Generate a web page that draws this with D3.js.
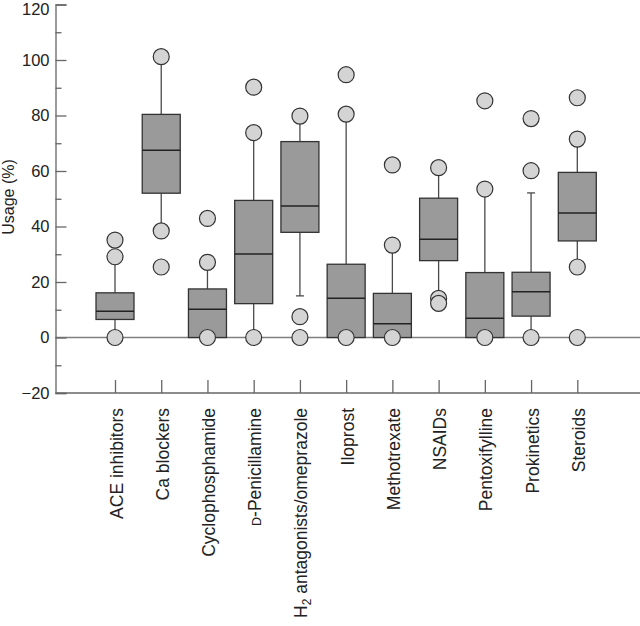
<!DOCTYPE html>
<html>
<head>
<meta charset="utf-8">
<script src="https://cdn.jsdelivr.net/npm/d3@7/dist/d3.min.js"></script>
<style>
html,body{margin:0;padding:0;background:#fff;}
svg{display:block;font-family:"Liberation Sans",Arial,sans-serif;}
</style>
</head>
<body>
<svg id="chart" width="640" height="626"></svg>
<script>
const categories = ["ACE inhibitors","Ca blockers","Cyclophosphamide","D-Penicillamine","H2 antagonists/omeprazole","Iloprost","Methotrexate","NSAIDs","Pentoxifylline","Prokinetics","Steroids"];
const q1       = [6.5, 52.0, 0,    12.2, 37.9, 0,    0,    27.7, 0,    7.7,  34.8];
const medians  = [9.5, 67.5, 10.2, 30.1, 47.4, 14.1, 5.0,  35.4, 6.9,  16.5, 44.9];
const q3       = [16.1, 80.4, 17.5, 49.4, 70.6, 26.4, 15.9, 50.2, 23.4, 23.5, 59.5];
const whiskLo  = [0,   38.4, 0,    2.0,  15.0, 0,    0,    14.1, 0,    0,    25.4];
const whiskHi  = [27,  101,  27.1, 73.8, 78.0, 80.5, 33.3, 61.2, 53.5, 52.1, 71.5];
const outliers = [
  [35.1, 29.1, 0],
  [101.2, 38.4, 25.4],
  [42.9, 27.1, 0],
  [90.2, 73.8, 0],
  [79.8, 7.5, 0],
  [94.7, 80.5, 0],
  [62.2, 33.3, 0],
  [61.2, 14.1, 12.3],
  [85.3, 53.5, 0],
  [78.9, 60.1, 0],
  [86.4, 71.5, 25.4, 0]
];
const yTicks = [-20, 0, 20, 40, 60, 80, 100, 120];
const yMinorTicks = [-10, 10, 30, 50, 70, 90, 110];
const yTitle = "Usage (%)";

const svg = d3.select("#chart");
const axisX0 = 55.5, rightEdge = 640;
const y = d3.scaleLinear().domain([-20, 120]).range([393, 4.5]);
const x = d3.scalePoint().domain(categories).range([115, 577.3]);
const boxW = 38, capW = 8, r = 8;
const tickFont = 16.5, catFont = 17.5, titleFont = 16;

// zero line
svg.append("line")
  .attr("x1", axisX0).attr("x2", rightEdge)
  .attr("y1", y(0)).attr("y2", y(0))
  .attr("stroke", "#808080").attr("stroke-width", 1.3);

// Y axis
const yAxis = svg.append("g").attr("transform", `translate(${axisX0},0)`)
  .call(d3.axisLeft(y).tickValues(yTicks).tickSize(-11).tickPadding(6));
yAxis.select(".domain").attr("stroke", "#666").attr("stroke-width", 1.3);
yAxis.selectAll(".tick line").attr("stroke", "#666").attr("stroke-width", 1.3);
yAxis.selectAll(".tick text").attr("font-size", tickFont).attr("fill", "#222")
  .attr("font-family", "Liberation Sans, Arial, sans-serif")
  .attr("y", d => d === 120 ? 5 : 0);

const yMinor = svg.append("g").attr("transform", `translate(${axisX0},0)`)
  .call(d3.axisLeft(y).tickValues(yMinorTicks).tickSize(-6).tickFormat(""));
yMinor.select(".domain").remove();
yMinor.selectAll(".tick line").attr("stroke", "#666").attr("stroke-width", 1.3);

// X axis
const xAxis = svg.append("g").attr("transform", `translate(0,${y(-20)})`)
  .call(d3.axisBottom(x).tickSize(-13).tickFormat(""));
xAxis.select(".domain").attr("d", `M${axisX0},0H${rightEdge}`).attr("stroke", "#666").attr("stroke-width", 1.3);
xAxis.selectAll(".tick line").attr("stroke", "#666").attr("stroke-width", 1.3);

// Y title
svg.append("text")
  .attr("transform", `translate(14,${197}) rotate(-90)`)
  .attr("text-anchor", "middle")
  .attr("font-size", titleFont)
  .attr("fill", "#222")
  .text(yTitle);

// Category labels
categories.forEach((c) => {
  const t = svg.append("text")
    .attr("transform", `translate(${x(c) + 7.5},408) rotate(-90)`)
    .attr("text-anchor", "end")
    .attr("font-size", catFont)
    .attr("fill", "#222");
  if (c.startsWith("H2")) {
    t.append("tspan").text("H");
    t.append("tspan").attr("font-size", 12).attr("dy", 4).text("2");
    t.append("tspan").attr("dy", -4).text(c.slice(2));
  } else if (c.startsWith("D-")) {
    t.append("tspan").attr("font-size", 12.5).text("D");
    t.append("tspan").text(c.slice(1));
  } else {
    t.text(c);
  }
});

const g = svg.append("g");
const lineColor = "#4a4a4a";
categories.forEach((c, i) => {
  const cx = x(c);
  // whiskers
  g.append("line").attr("x1", cx).attr("x2", cx).attr("y1", y(q3[i])).attr("y2", y(whiskHi[i]))
    .attr("stroke", lineColor).attr("stroke-width", 1.3);
  g.append("line").attr("x1", cx).attr("x2", cx).attr("y1", y(q1[i])).attr("y2", y(whiskLo[i]))
    .attr("stroke", lineColor).attr("stroke-width", 1.3);
  [whiskHi[i], whiskLo[i]].forEach(v => {
    g.append("line").attr("x1", cx - capW / 2).attr("x2", cx + capW / 2).attr("y1", y(v)).attr("y2", y(v))
      .attr("stroke", lineColor).attr("stroke-width", 1.3);
  });
  // box
  g.append("rect").attr("x", cx - boxW / 2).attr("width", boxW)
    .attr("y", y(q3[i])).attr("height", y(q1[i]) - y(q3[i]))
    .attr("fill", "#9a9a9a").attr("stroke", "#333").attr("stroke-width", 1.3);
  g.append("line").attr("x1", cx - boxW / 2).attr("x2", cx + boxW / 2)
    .attr("y1", y(medians[i])).attr("y2", y(medians[i]))
    .attr("stroke", "#222").attr("stroke-width", 1.5);
  // outliers
  outliers[i].forEach(v => {
    g.append("circle").attr("cx", cx).attr("cy", y(v)).attr("r", r)
      .attr("fill", "#d4d4d4").attr("stroke", "#333").attr("stroke-width", 1.2);
  });
});
</script>
</body>
</html>
